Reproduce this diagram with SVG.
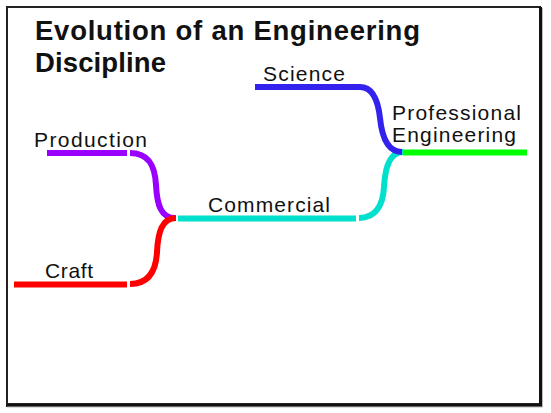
<svg xmlns="http://www.w3.org/2000/svg" width="551" height="413" viewBox="0 0 551 413">
<style>
.t{font-family:"Liberation Sans",Arial,sans-serif;fill:#111}
.title{font-size:27.5px;font-weight:bold}
.lbl{font-size:21px}
.ln{fill:none;stroke-width:6;stroke-linecap:butt}
</style>
<rect width="551" height="413" fill="#fff"/>
<g id="frame">
<rect x="7" y="7" width="533" height="397" fill="none" stroke="#222" stroke-width="2"/>
<path d="M540.5,7 V405.5 H6" fill="none" stroke="#111" stroke-width="3"/>
<path d="M542.5,8 V407 H7" fill="none" stroke="#bbb" stroke-width="1"/>
</g>
<g id="title">
<text class="t title" x="35" y="40" textLength="385" lengthAdjust="spacing">Evolution of an Engineering</text>
<text class="t title" x="35" y="72" textLength="131" lengthAdjust="spacing">Discipline</text>
</g>
<g id="connectors">
<path class="ln" stroke="#9900ff" d="M47,153 H127"/>
<path class="ln" stroke="#9900ff" d="M130,153 C149,153 155,166 156,185 C157,205 161,218 175,218"/>
<path class="ln" stroke="#ff0000" d="M14,284.5 H127"/>
<path class="ln" stroke="#ff0000" d="M130,284 C149,284 156,271 157,252 C158,232 162,218 176,218"/>
<path class="ln" stroke="#00e0cc" d="M178,218.5 H356"/>
<path class="ln" stroke="#00e0cc" d="M359,218 C376,218 383,205 384,187 C385,168 390,152 403,152"/>
<path class="ln" stroke="#3322ee" d="M255,87 H360 C372,87 378,100 380,118 C382,138 388,152 402,152"/>
<path class="ln" stroke="#00ff00" d="M403,152.5 H527"/>
</g>
<g id="production"><text class="t lbl" x="34" y="146.5" textLength="113" lengthAdjust="spacing">Production</text></g>
<g id="craft"><text class="t lbl" x="45" y="278" textLength="48" lengthAdjust="spacing">Craft</text></g>
<g id="commercial"><text class="t lbl" x="208" y="212" textLength="122" lengthAdjust="spacing">Commercial</text></g>
<g id="science"><text class="t lbl" x="263" y="80.5" textLength="82" lengthAdjust="spacing">Science</text></g>
<g id="professional-engineering">
<text class="t lbl" x="392" y="120" textLength="129" lengthAdjust="spacing">Professional</text>
<text class="t lbl" x="392" y="141.5" textLength="124" lengthAdjust="spacing">Engineering</text>
</g>
</svg>
